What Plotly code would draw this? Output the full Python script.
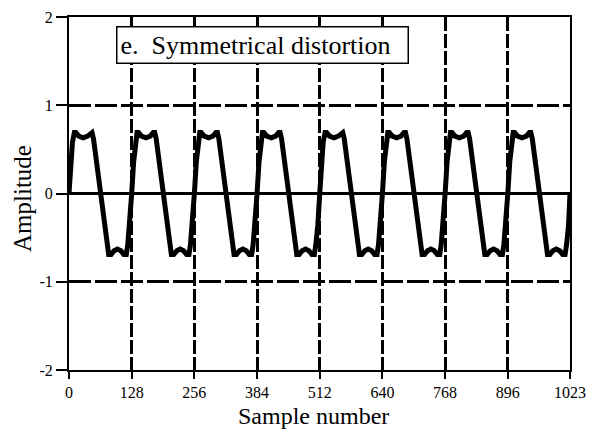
import plotly.graph_objects as go

# Sample positions (vertices of the drawn waveform)
sample_index = [
    0, 4, 7, 11, 14, 20, 29, 38, 44, 47, 50, 57, 64, 71, 78, 81, 86, 92, 99, 106, 112, 117, 120, 124,
    128, 132, 135, 139, 142, 148, 157, 166, 172, 175, 178, 185, 192, 199, 206, 209, 214, 220, 227, 234, 240, 245, 248, 252,
    256, 260, 263, 267, 270, 276, 285, 294, 300, 303, 306, 313, 320, 327, 334, 337, 342, 348, 355, 362, 368, 373, 376, 380,
    384, 388, 391, 395, 398, 404, 413, 422, 428, 431, 434, 441, 448, 455, 462, 465, 470, 476, 483, 490, 496, 501, 504, 508,
    512, 516, 519, 523, 526, 532, 541, 550, 556, 559, 562, 569, 576, 583, 590, 593, 598, 604, 611, 618, 624, 629, 632, 636,
    640, 644, 647, 651, 654, 660, 669, 678, 684, 687, 690, 697, 704, 711, 718, 721, 726, 732, 739, 746, 752, 757, 760, 764,
    768, 772, 775, 779, 782, 788, 797, 806, 812, 815, 818, 825, 832, 839, 846, 849, 854, 860, 867, 874, 880, 885, 888, 892,
    896, 900, 903, 907, 910, 916, 925, 934, 940, 943, 946, 953, 960, 967, 974, 977, 982, 988, 995, 1002, 1008, 1013, 1016, 1020,
    1023,
]

amplitude = [
    0, 0.36, 0.58, 0.69, 0.69, 0.65, 0.63, 0.65, 0.69, 0.69, 0.62, 0.32, 0, -0.32, -0.62, -0.69, -0.69, -0.65, -0.63, -0.65, -0.69, -0.69, -0.58, -0.36,
    0, 0.36, 0.58, 0.69, 0.69, 0.65, 0.63, 0.65, 0.69, 0.69, 0.62, 0.32, 0, -0.32, -0.62, -0.69, -0.69, -0.65, -0.63, -0.65, -0.69, -0.69, -0.58, -0.36,
    0, 0.36, 0.58, 0.69, 0.69, 0.65, 0.63, 0.65, 0.69, 0.69, 0.62, 0.32, 0, -0.32, -0.62, -0.69, -0.69, -0.65, -0.63, -0.65, -0.69, -0.69, -0.58, -0.36,
    0, 0.36, 0.58, 0.69, 0.69, 0.65, 0.63, 0.65, 0.69, 0.69, 0.62, 0.32, 0, -0.32, -0.62, -0.69, -0.69, -0.65, -0.63, -0.65, -0.69, -0.69, -0.58, -0.36,
    0, 0.36, 0.58, 0.69, 0.69, 0.65, 0.63, 0.65, 0.69, 0.69, 0.62, 0.32, 0, -0.32, -0.62, -0.69, -0.69, -0.65, -0.63, -0.65, -0.69, -0.69, -0.58, -0.36,
    0, 0.36, 0.58, 0.69, 0.69, 0.65, 0.63, 0.65, 0.69, 0.69, 0.62, 0.32, 0, -0.32, -0.62, -0.69, -0.69, -0.65, -0.63, -0.65, -0.69, -0.69, -0.58, -0.36,
    0, 0.36, 0.58, 0.69, 0.69, 0.65, 0.63, 0.65, 0.69, 0.69, 0.62, 0.32, 0, -0.32, -0.62, -0.69, -0.69, -0.65, -0.63, -0.65, -0.69, -0.69, -0.58, -0.36,
    0, 0.36, 0.58, 0.69, 0.69, 0.65, 0.63, 0.65, 0.69, 0.69, 0.62, 0.32, 0, -0.32, -0.62, -0.69, -0.69, -0.65, -0.63, -0.65, -0.69, -0.69, -0.58, -0.36,
    0,
]

x_ticks = [0, 128, 256, 384, 512, 640, 768, 896, 1023]
x_tick_labels = ["0", "128", "256", "384", "512", "640", "768", "896", "1023"]
y_ticks = [-2, -1, 0, 1, 2]
y_tick_labels = ["-2", "-1", "0", "1", "2"]

panel_label = "e.\u00a0\u00a0Symmetrical distortion"
x_title = "Sample number"
y_title = "Amplitude"

FONT = "Liberation Serif, Times New Roman, serif"

fig = go.Figure()
fig.add_trace(go.Scatter(
    x=sample_index, y=amplitude, mode="lines",
    line=dict(color="black", width=5),
    showlegend=False, hoverinfo="skip",
))

fig.update_layout(
    width=590, height=431,
    margin=dict(l=69, r=20, t=17, b=61),
    paper_bgcolor="white", plot_bgcolor="white",
    font=dict(family=FONT, color="black"),
)

fig.update_xaxes(
    range=[0, 1023], tickmode="array", tickvals=x_ticks, ticktext=x_tick_labels,
    showline=True, linecolor="black", linewidth=2, mirror=True,
    ticks="outside", ticklen=7, tickwidth=2, tickcolor="black",
    showgrid=True, gridcolor="black", gridwidth=2.5, griddash="14px,3px",
    zeroline=False, automargin=False,
    tickfont=dict(size=16, family=FONT),
)
fig.update_yaxes(
    range=[-2, 2], tickmode="array", tickvals=y_ticks, ticktext=y_tick_labels,
    showline=True, linecolor="black", linewidth=2, mirror=True,
    ticks="outside", ticklen=11, tickwidth=2, tickcolor="black",
    showgrid=True, gridcolor="black", gridwidth=2.5, griddash="22px,4px",
    zeroline=True, zerolinecolor="black", zerolinewidth=2.5, automargin=False,
    tickfont=dict(size=16, family=FONT),
)

# Axis titles placed as annotations to match the reference positions
fig.add_annotation(
    xref="paper", yref="paper", x=(313 - 69) / 501, y=(370 - 416) / 353,
    xanchor="center", yanchor="middle", showarrow=False,
    text=x_title, font=dict(size=24, family=FONT, color="black"),
)
fig.add_annotation(
    xref="paper", yref="paper", x=(22 - 69) / 501, y=(370 - 199) / 353,
    xanchor="center", yanchor="middle", showarrow=False, textangle=-90,
    text=y_title, font=dict(size=25, family=FONT, color="black"),
)

fig.add_annotation(
    xref="paper", yref="paper", x=(116 - 69) / 501, y=(370 - 26) / 353,
    xanchor="left", yanchor="top", showarrow=False,
    text=panel_label, font=dict(size=26, family=FONT, color="black"),
    align="left", bgcolor="white", bordercolor="black", borderwidth=1.5,
    borderpad=3, width=284, height=29,
)

fig.write_html("out.html")
